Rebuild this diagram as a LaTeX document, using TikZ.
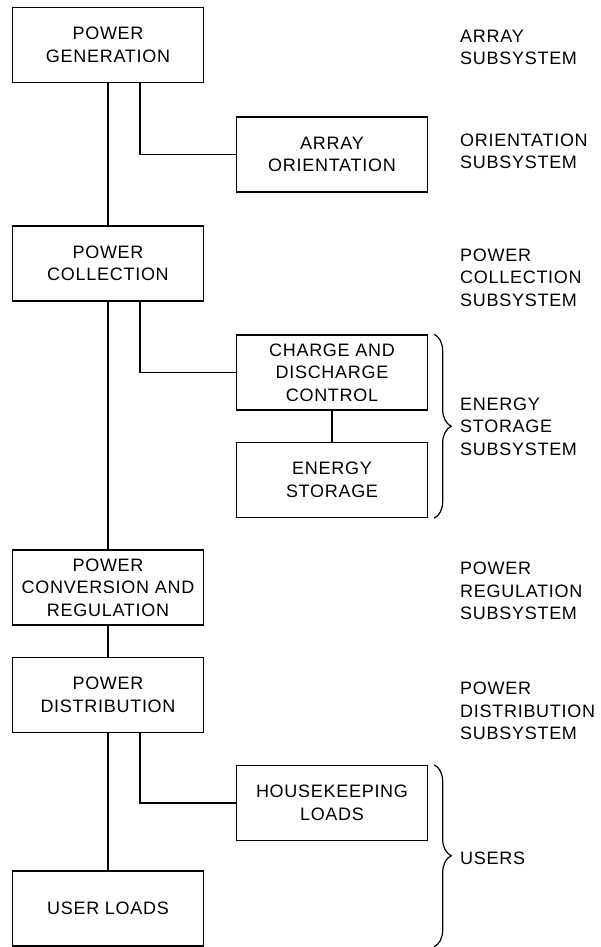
\documentclass[tikz,border=0pt]{standalone}
\usepackage{fontspec}
\setmainfont[LetterSpace=4]{Liberation Sans}
\usetikzlibrary{positioning, decorations.pathreplacing}
\newcommand{\bodyfont}{\fontsize{18}{22.5}\selectfont}
\tikzset{
  blk/.style={draw, line width=1.4pt, minimum width=191pt, minimum height=75pt, inner sep=0pt, align=center, font=\bodyfont},
  tag/.style={anchor=west, align=left, inner sep=0pt, font=\bodyfont},
  wire/.style={line width=1.8pt},
  grp/.style={decorate, decoration={brace, amplitude=17pt}, line width=1.2pt}
}

\begin{document}
\begin{tikzpicture}[x=1pt, y={(0pt,-1pt)}]
\useasboundingbox (0,0) rectangle (600,947);
% Main chain
\node[blk] (gen) at (108,45) {POWER\\GENERATION};
\node[blk] (col) at (108,263.5) {POWER\\COLLECTION};
\node[blk] (conv) at (108,587.5) {POWER\\CONVERSION AND\\REGULATION};
\node[blk] (dist) at (108,695) {POWER\\DISTRIBUTION};
\node[blk] (user) at (108,908.5) {USER LOADS};
% Side boxes
\node[blk] (orient) at (332,154.5) {ARRAY\\ORIENTATION};
\node[blk] (charge) at (332,372.5) {CHARGE AND\\DISCHARGE\\CONTROL};
\node[blk] (store) at (332,480) {ENERGY\\STORAGE};
\node[blk] (house) at (332,803) {HOUSEKEEPING\\LOADS};
% Subsystem names
\foreach \y/\txt [count=\i] in {
  47.5/{ARRAY\\SUBSYSTEM},
  151.5/{ORIENTATION\\SUBSYSTEM},
  277.5/{POWER\\COLLECTION\\SUBSYSTEM},
  426.5/{ENERGY\\STORAGE\\SUBSYSTEM},
  591/{POWER\\REGULATION\\SUBSYSTEM},
  711/{POWER\\DISTRIBUTION\\SUBSYSTEM},
  858/{USERS}
} {
  \node[tag] (lab\i) at (460,\y) {\txt};
}
% Connectors
\draw[wire] (gen) -- (col);
\draw[wire] ([xshift=32pt]gen.south) |- (orient.west);
\draw[wire] (col) -- (conv);
\draw[wire] ([xshift=32pt]col.south) |- (charge.west);
\draw[wire] (charge) -- (store);
\draw[wire] (conv) -- (dist);
\draw[wire] (dist) -- (user);
\draw[wire] ([xshift=32pt]dist.south) |- (house.west);
% Braces
\draw[grp] ([xshift=6pt]charge.north east) -- ([xshift=6pt]store.south east);
\draw[grp] ([xshift=6pt]house.north east) -- ([xshift=6pt]house.east |- user.south);
\end{tikzpicture}
\end{document}
